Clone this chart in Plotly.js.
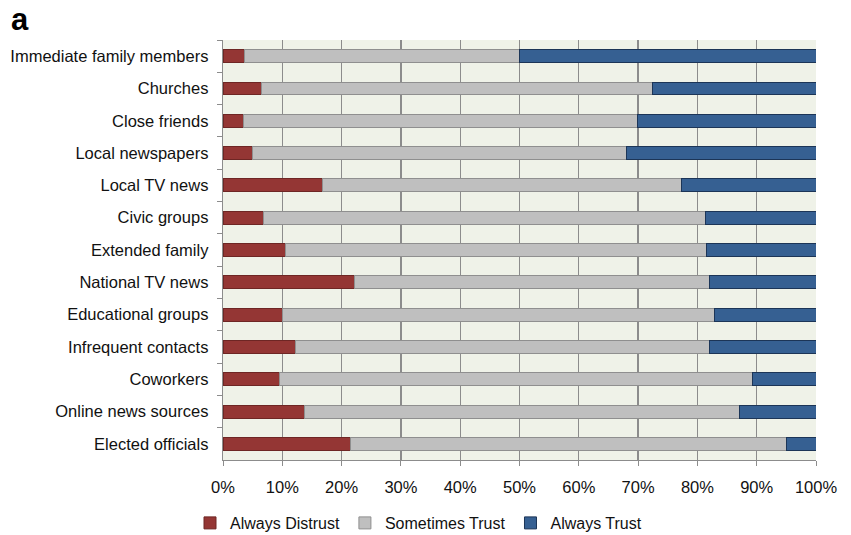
<!DOCTYPE html>
<html>
<head>
<meta charset="utf-8">
<script src="https://cdn.plot.ly/plotly-3.0.1.min.js"></script>
<style>html,body{margin:0;padding:0;background:#fff;}#chart{width:851px;height:535px;}</style>
</head>
<body>
<div id="chart"></div>
<script>
var categories = ["Immediate family members","Churches","Close friends","Local newspapers","Local TV news","Civic groups","Extended family","National TV news","Educational groups","Infrequent contacts","Coworkers","Online news sources","Elected officials"];
var alwaysDistrust = [3.6,6.5,3.4,4.9,16.8,6.9,10.6,22.1,10.1,12.2,9.5,13.7,21.5];
var sometimesTrust = [46.4,66.0,66.5,63.1,60.5,74.5,70.9,59.9,72.8,69.8,79.8,73.4,73.6];
var alwaysTrust = [50.0,27.5,30.1,32.0,22.7,18.6,18.5,18.0,17.1,18.0,10.7,12.9,4.9];
var tickVals = [0,10,20,30,40,50,60,70,80,90,100];
var tickText = ["0%","10%","20%","30%","40%","50%","60%","70%","80%","90%","100%"];

function tr(name, vals, color, line){
  return {type:'bar', orientation:'h', name:name, x:vals, y:categories,
    marker:{color:color, line:{color:line, width:1}}, hoverinfo:'x+y'};
}
var data = [
  tr("Always Distrust", alwaysDistrust, "#943634", "#6e2624"),
  tr("Sometimes Trust", sometimesTrust, "#bfbfbf", "#8f8f8f"),
  tr("Always Trust", alwaysTrust, "#366092", "#1c3557")
];
var layout = {
  width:851, height:535,
  margin:{l:223, r:35, t:40, b:75, autoexpand:false},
  barmode:'stack', bargap:0.6,
  paper_bgcolor:'#ffffff', plot_bgcolor:'#eff2e8',
  font:{family:'"Liberation Sans", Arial, sans-serif', size:16.5, color:'#111'},
  showlegend:true,
  legend:{orientation:'h', x:190/851, xref:'container', xanchor:'left', y:(535-523)/535, yref:'container', yanchor:'middle',
    font:{size:16}, itemwidth:30, traceorder:'normal', bgcolor:'rgba(0,0,0,0)'},
  xaxis:{range:[0,100], tickvals:tickVals, ticktext:tickText, showgrid:true,
    gridcolor:'#8c8c8c', gridwidth:1.3, zeroline:false, showline:true, linecolor:'#8c8c8c', linewidth:1.3,
    ticks:'outside', ticklen:5, tickcolor:'#8c8c8c', fixedrange:true, ticklabelstandoff:7},
  yaxis:{type:'category', autorange:'reversed', showgrid:false, zeroline:false,
    showline:true, linecolor:'#8c8c8c', linewidth:1.3, ticks:'outside', ticklen:5,
    tickcolor:'#8c8c8c', tickson:'boundaries', ticklabelstandoff:10},
  annotations:[{text:'<b>a</b>', xref:'paper', yref:'paper', x:-223/593, y:1+20/420,
    xanchor:'left', yanchor:'middle', showarrow:false, font:{size:31, color:'#000'}, xshift:9}]
};
Plotly.newPlot('chart', data, layout, {displayModeBar:false, staticPlot:true});
</script>
</body>
</html>
